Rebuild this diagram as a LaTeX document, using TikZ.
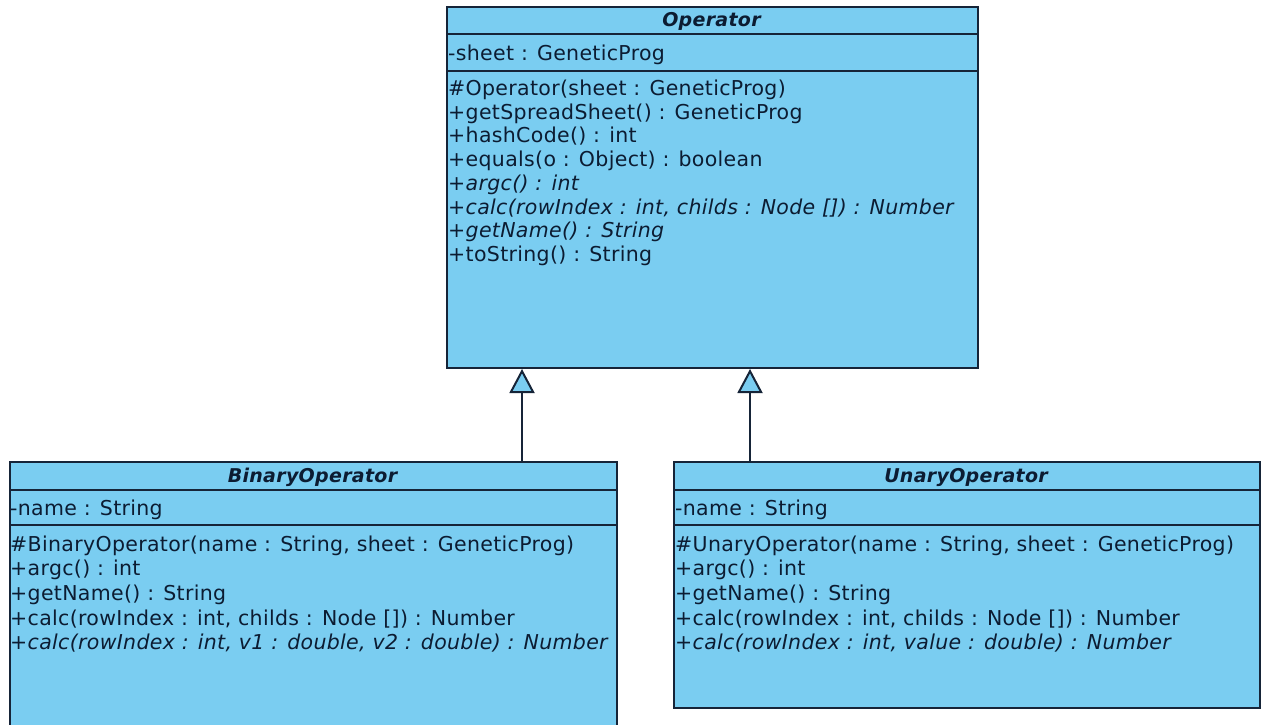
\documentclass[tikz,border=0pt]{standalone}
\usepackage{fontspec}
\setmainfont{DejaVu Sans}[LetterSpace=1.6]
\usetikzlibrary{arrows.meta}
\definecolor{umlfill}{RGB}{122,205,241}
\definecolor{umlline}{RGB}{22,36,56}
\definecolor{umltext}{RGB}{12,28,50}

\begin{document}
\begin{tikzpicture}[x=1pt,y=-1pt,
  classbox/.style={draw=umlline, fill=umlfill, line width=2pt, inner sep=0pt,
    anchor=north west, rectangle},
  divider/.style={draw=umlline, line width=2pt},
  member/.style={anchor=base west, inner sep=0pt, text=umltext,
    font=\fontsize{20.5}{24}\selectfont},
  abstractmember/.style={member, font=\fontsize{20.5}{24}\selectfont\itshape},
  classname/.style={anchor=base, inner sep=0pt, text=umltext,
    font=\fontsize{19}{23}\selectfont\bfseries\itshape},
  generalization/.style={draw=umlline, line width=2pt,
    -{Triangle[length=24pt,width=25pt,fill=umlfill]}}
]
\useasboundingbox (0,0) rectangle (1261,725);
\clip (0,0) rectangle (1261,725);

% ---------- class boxes ----------
\node[classbox, minimum width=531pt, minimum height=361pt] (op) at (446,6) {};
\node[classbox, minimum width=607pt, minimum height=280pt] (bin) at (9,461) {};
\node[classbox, minimum width=586pt, minimum height=246pt] (una) at (673,461) {};

% ---------- compartment dividers ----------
\draw[divider] (op.west |- 0,34) -- (op.east |- 0,34);
\draw[divider] (op.west |- 0,71.5) -- (op.east |- 0,71.5);
\draw[divider] (bin.west |- 0,489.5) -- (bin.east |- 0,489.5);
\draw[divider] (bin.west |- 0,525) -- (bin.east |- 0,525);
\draw[divider] (una.west |- 0,489.5) -- (una.east |- 0,489.5);
\draw[divider] (una.west |- 0,525) -- (una.east |- 0,525);

% ---------- Operator ----------
\node[classname] (opname) at (711.5,27) {Operator};
\node[member] (opa1) at (448,60) {-sheet : GeneticProg};
\node[member] (opm1) at (448,95.5) {\#Operator(sheet : GeneticProg)};
\node[member] (opm2) at (448,119.2) {+getSpreadSheet() : GeneticProg};
\node[member] (opm3) at (448,142.9) {+hashCode() : int};
\node[member] (opm4) at (448,166.6) {+equals(o : Object) : boolean};
\node[abstractmember] (opm5) at (448,190.3) {+argc() : int};
\node[abstractmember] (opm6) at (448,214) {+calc(rowIndex : int, childs : Node []) : Number};
\node[abstractmember] (opm7) at (448,237.7) {+getName() : String};
\node[member] (opm8) at (448,261.4) {+toString() : String};

% ---------- BinaryOperator ----------
\node[classname] (binname) at (312.5,482.5) {BinaryOperator};
\node[member] (bina1) at (10,515.5) {-name : String};
\node[member] (binm1) at (10,551) {\#BinaryOperator(name : String, sheet : GeneticProg)};
\node[member] (binm2) at (10,575.7) {+argc() : int};
\node[member] (binm3) at (10,600.4) {+getName() : String};
\node[member] (binm4) at (10,625.1) {+calc(rowIndex : int, childs : Node []) : Number};
\node[abstractmember] (binm5) at (10,649.8) {+calc(rowIndex : int, v1 : double, v2 : double) : Number};

% ---------- UnaryOperator ----------
\node[classname] (unaname) at (966,482.5) {UnaryOperator};
\node[member] (unaa1) at (675,515.5) {-name : String};
\node[member] (unam1) at (675,551) {\#UnaryOperator(name : String, sheet : GeneticProg)};
\node[member] (unam2) at (675,575.7) {+argc() : int};
\node[member] (unam3) at (675,600.4) {+getName() : String};
\node[member] (unam4) at (675,625.1) {+calc(rowIndex : int, childs : Node []) : Number};
\node[abstractmember] (unam5) at (675,649.8) {+calc(rowIndex : int, value : double) : Number};

% ---------- generalizations ----------
\coordinate (binx) at (522,0);
\coordinate (unax) at (750,0);
\draw[generalization] (bin.north -| binx) -- (op.south -| binx);
\draw[generalization] (una.north -| unax) -- (op.south -| unax);
\end{tikzpicture}
\end{document}
